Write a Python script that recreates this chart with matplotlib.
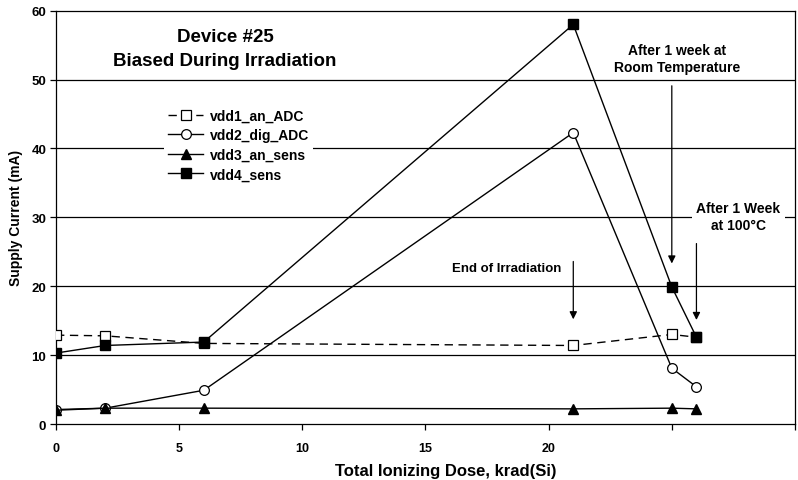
import matplotlib.pyplot as plt

plt.rcParams['font.family'] = ['Liberation Sans', 'DejaVu Sans']
plt.rcParams['font.weight'] = 'bold'

# data
dose = [0, 2, 6, 21, 25, 26]
vdd1_an_ADC = [12.9, 12.8, 11.7, 11.4, 13.0, 12.6]
vdd2_dig_ADC = [2.1, 2.3, 4.9, 42.3, 8.1, 5.4]
vdd3_an_sens = [2.0, 2.3, 2.3, 2.2, 2.3, 2.2]
vdd4_sens = [10.3, 11.4, 11.9, 58.0, 19.9, 12.6]

x_ticks = [0, 5, 10, 15, 20, 25, 30]
x_tick_labels = ['0', '5', '10', '15', '20', '', '']
y_ticks = [0, 10, 20, 30, 40, 50, 60]

fig = plt.figure(figsize=(7.98, 4.81), dpi=100)
ax = fig.add_axes([0.0702, 0.1164, 0.926, 0.8593])

for yv in y_ticks[1:-1]:
    ax.axhline(yv, color='black', lw=0.9, zorder=0)

ax.plot(dose, vdd1_an_ADC, color='black', lw=1, dashes=(6, 4), marker='s',
        ms=7, mfc='white', mec='black', mew=0.9, label='vdd1_an_ADC', zorder=3)
ax.plot(dose, vdd2_dig_ADC, color='black', lw=1, marker='o',
        ms=7, mfc='white', mec='black', mew=0.9, label='vdd2_dig_ADC', zorder=3)
ax.plot(dose, vdd3_an_sens, color='black', lw=1, marker='^',
        ms=7, mfc='black', mec='black', label='vdd3_an_sens', zorder=3)
ax.plot(dose, vdd4_sens, color='black', lw=1, marker='s',
        ms=7, mfc='black', mec='black', label='vdd4_sens', zorder=4)

ax.set_xlim(0, 30)
ax.set_ylim(0, 60)
ax.set_xticks(x_ticks)
ax.set_xticklabels(x_tick_labels)
ax.set_yticks(y_ticks)
ax.tick_params(direction='out', length=4, width=0.9)
ax.tick_params(axis='x', pad=9, labelsize=9)
ax.tick_params(axis='y', pad=3, labelsize=9.5)
for lab in ax.get_xticklabels() + ax.get_yticklabels():
    lab.set_fontweight('bold')
for s in ax.spines.values():
    s.set_linewidth(0.9)

ax.set_xlabel('Total Ionizing Dose, krad(Si)', fontsize=12, fontweight='bold')
ax.xaxis.set_label_coords(0.527, -0.095)
ax.set_ylabel('Supply Current (mA)', fontsize=10, fontweight='bold', labelpad=6)

ax.text(6.86, 56.2, 'Device #25', ha='center', va='center', fontsize=13.5, fontweight='bold')
ax.text(6.86, 52.7, 'Biased During Irradiation', ha='center', va='center',
        fontsize=13.5, fontweight='bold')

ax.text(25.2, 53.1, 'After 1 week at\nRoom Temperature', ha='center', va='center',
        fontsize=10, fontweight='bold', linespacing=1.25)
ax.text(27.7, 30.15, 'After 1 Week\nat 100\u00b0C', ha='center', va='center',
        fontsize=10, fontweight='bold', linespacing=1.25,
        bbox=dict(facecolor='white', edgecolor='none', pad=3))
ax.text(18.3, 22.6, 'End of Irradiation', ha='center', va='center',
        fontsize=9.5, fontweight='bold')

arrow = dict(arrowstyle='-|>', color='black', lw=0.9, mutation_scale=11)
ax.annotate('', xy=(21, 14.8), xytext=(21, 24.0), arrowprops=arrow)
ax.annotate('', xy=(25, 22.9), xytext=(25, 49.5), arrowprops=arrow)
ax.annotate('', xy=(26, 14.7), xytext=(26, 26.6), arrowprops=arrow)

leg = ax.legend(loc='upper left', bbox_to_anchor=(0.1367, 0.79), frameon=True,
                fontsize=10, handlelength=2.5, handletextpad=0.5,
                labelspacing=0.4, borderpad=0.3)
leg.get_frame().set_edgecolor('none')
leg.get_frame().set_facecolor('white')
leg.get_frame().set_alpha(1)
for t in leg.get_texts():
    t.set_fontweight('bold')

fig.savefig('out.png', dpi=100)
